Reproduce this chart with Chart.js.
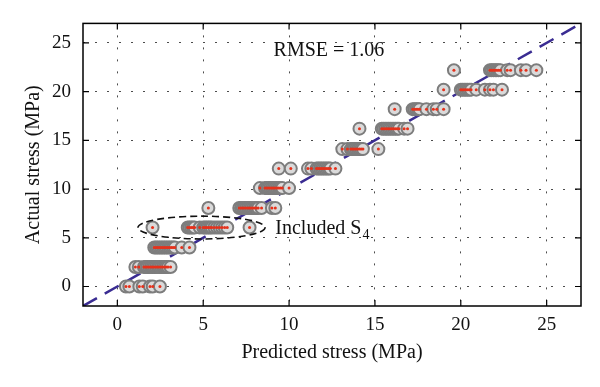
<!DOCTYPE html>
<html>
<head>
<meta charset="utf-8">
<script src="https://cdn.jsdelivr.net/npm/chart.js@4.4.1/dist/chart.umd.min.js"></script>
<style>
  html, body { margin: 0; padding: 0; background: #fff; }
  #stressChart { display: block; }
</style>
</head>
<body>
<canvas id="stressChart" width="600" height="387"></canvas>
<script>
const xTicks = [0, 5, 10, 15, 20, 25];
const yTicks = [0, 5, 10, 15, 20, 25];

// actual stress levels (MPa) and the predicted values found at each level
const actualLevels = [0, 2, 4, 6.05, 8.05, 10.1, 12.1, 14.1, 16.2, 18.2, 20.2, 22.2];
const predictedByLevel = [
    [0.5, 0.7, 1.28, 1.48, 1.9, 2.06, 2.48],
    [1.05, 1.25, 1.55, 1.65, 1.75, 1.85, 1.95, 2.05, 2.15, 2.25, 2.35, 2.45, 2.55, 2.65, 2.75, 2.85, 2.95, 3.1],
    [2.15, 2.25, 2.35, 2.45, 2.55, 2.65, 2.75, 2.85, 2.95, 3.05, 3.15, 3.25, 3.35, 3.75, 4.2],
    [2.05, 4.1, 4.2, 4.3, 4.4, 4.5, 4.8, 5.0, 5.1, 5.2, 5.3, 5.4, 5.5, 5.65, 5.8, 5.95, 6.1, 6.25, 6.4, 7.7],
    [5.3, 7.1, 7.2, 7.3, 7.4, 7.5, 7.6, 7.7, 7.8, 7.9, 8.0, 8.1, 8.2, 8.4, 9.0, 9.2],
    [8.3, 8.6, 8.7, 8.8, 8.9, 9.0, 9.1, 9.2, 9.3, 9.4, 9.5, 9.6, 10.0],
    [9.4, 10.1, 11.1, 11.3, 11.6, 11.7, 11.8, 11.9, 12.0, 12.1, 12.2, 12.3, 12.4, 12.7],
    [13.1, 13.4, 13.6, 13.7, 13.8, 13.9, 14.0, 14.1, 14.2, 14.3, 15.2],
    [14.1, 15.4, 15.5, 15.6, 15.7, 15.8, 15.9, 16.0, 16.1, 16.2, 16.3, 16.4, 16.7, 16.9],
    [16.15, 17.2, 17.3, 17.4, 17.5, 17.6, 18.0, 18.4, 18.6, 19.0],
    [19.0, 20.0, 20.1, 20.2, 20.3, 20.4, 20.5, 20.6, 20.9, 21.4, 21.7, 21.9, 22.4],
    [19.6, 21.7, 21.8, 21.9, 22.0, 22.1, 22.2, 22.3, 22.7, 22.9, 23.5, 23.8, 24.4]
];

// y = x reference line
const diagX = [-2, 27];

// ellipse around the S4 group: centre and half widths in data units
const ellipseCenter = [4.9, 6.05];
const ellipseRadii = [3.7, 1.17];

const serif = '"Liberation Serif", "DejaVu Serif", serif';

const points = [];
actualLevels.forEach((lvl, i) => {
    predictedByLevel[i].forEach(p => points.push({ x: p, y: lvl }));
});

const decor = {
    id: 'decor',
    afterDatasetsDraw(chart) {
        const { ctx, chartArea: a, scales: { x, y } } = chart;
        ctx.save();

        // dashed ellipse
        const cx = x.getPixelForValue(ellipseCenter[0]);
        const cy = y.getPixelForValue(ellipseCenter[1]);
        const rx = x.getPixelForValue(ellipseCenter[0] + ellipseRadii[0]) - cx;
        const ry = cy - y.getPixelForValue(ellipseCenter[1] + ellipseRadii[1]);
        ctx.beginPath();
        ctx.setLineDash([7, 4]);
        ctx.lineWidth = 1.6;
        ctx.strokeStyle = '#111';
        ctx.ellipse(cx, cy, rx, ry, 0, 0, Math.PI * 2);
        ctx.stroke();

        // box and inward ticks
        ctx.setLineDash([]);
        ctx.lineWidth = 1.5;
        ctx.strokeStyle = '#000';
        ctx.strokeRect(a.left, a.top, a.right - a.left, a.bottom - a.top);
        ctx.lineWidth = 1.2;
        ctx.beginPath();
        xTicks.forEach(v => {
            const px = x.getPixelForValue(v);
            ctx.moveTo(px, a.bottom); ctx.lineTo(px, a.bottom - 6);
            ctx.moveTo(px, a.top); ctx.lineTo(px, a.top + 6);
        });
        yTicks.forEach(v => {
            const py = y.getPixelForValue(v);
            ctx.moveTo(a.left, py); ctx.lineTo(a.left + 6, py);
            ctx.moveTo(a.right, py); ctx.lineTo(a.right - 6, py);
        });
        ctx.stroke();

        // annotations
        ctx.fillStyle = '#111';
        ctx.textBaseline = 'alphabetic';
        ctx.font = '20px ' + serif;
        ctx.fillText('RMSE = 1.06', x.getPixelForValue(9.1), y.getPixelForValue(23.7));
        const ix = x.getPixelForValue(9.2);
        const iy = y.getPixelForValue(5.4);
        ctx.fillText('Included S', ix, iy);
        const w = ctx.measureText('Included S').width;
        ctx.font = '14px ' + serif;
        ctx.fillText('4', ix + w + 1, iy + 5);
        ctx.restore();
    }
};

new Chart(document.getElementById('stressChart'), {
    type: 'scatter',
    data: {
        datasets: [
            {
                // red centre dots
                data: points,
                pointRadius: 1.5,
                pointBorderWidth: 0,
                pointBackgroundColor: '#e5321c',
                order: 0
            },
            {
                data: points,
                pointRadius: 6,
                pointBorderWidth: 2,
                pointBorderColor: '#7d7d7d',
                pointBackgroundColor: '#dadada',
                order: 1
            },
            {
                type: 'line',
                data: diagX.map(v => ({ x: v, y: v })),
                borderColor: '#3a2c92',
                borderWidth: 2.5,
                borderDash: [16, 9],
                pointRadius: 0,
                order: 2
            }
        ]
    },
    options: {
        responsive: false,
        animation: false,
        devicePixelRatio: 1,
        layout: { padding: { top: 22, right: 19, left: 0, bottom: 0 } },
        plugins: {
            legend: { display: false },
            tooltip: { enabled: false }
        },
        scales: {
            x: {
                type: 'linear',
                min: -2,
                max: 27,
                afterBuildTicks: s => { s.ticks = xTicks.map(v => ({ value: v })); },
                afterFit: s => { s.height = 81; },
                grid: { color: 'rgba(0,0,0,0.7)', lineWidth: 1, drawTicks: false },
                border: { display: false, dash: [2, 10] },
                ticks: { color: '#111', padding: 8, font: { family: serif, size: 19 }, maxRotation: 0 },
                title: {
                    display: true,
                    text: 'Predicted stress (MPa)',
                    color: '#111',
                    font: { family: serif, size: 20 },
                    padding: { top: 0, bottom: 22 }
                }
            },
            y: {
                type: 'linear',
                min: -2,
                max: 27,
                afterBuildTicks: s => { s.ticks = yTicks.map(v => ({ value: v })); },
                afterFit: s => { s.width = 83; },
                grid: { color: 'rgba(0,0,0,0.7)', lineWidth: 1, drawTicks: false },
                border: { display: false, dash: [2, 10] },
                ticks: { color: '#111', padding: 12, font: { family: serif, size: 19 } },
                title: {
                    display: true,
                    text: 'Actual stress (MPa)',
                    color: '#111',
                    font: { family: serif, size: 20 },
                    padding: { top: 22, bottom: 0 }
                }
            }
        }
    },
    plugins: [decor]
});
</script>
</body>
</html>
